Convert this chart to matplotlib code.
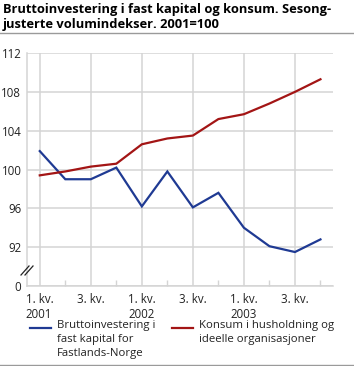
import matplotlib
matplotlib.use("Agg")
from matplotlib import pyplot as plt
from matplotlib.lines import Line2D

plt.rcParams['font.family'] = ['Open Sans', 'DejaVu Sans']

# kvartaler 2001-2003
quarters = list(range(12))
tick_pos = [0, 2, 4, 6, 8, 10]
tick_labels = ["1. kv.\n2001", "3. kv.", "1. kv.\n2002", "3. kv.", "1. kv.\n2003", "3. kv."]

invest = [101.9, 99.0, 99.0, 100.2, 96.2, 99.8, 96.1, 97.6, 94.0, 92.1, 91.5, 92.8]
konsum = [99.4, 99.8, 100.3, 100.6, 102.6, 103.2, 103.5, 105.2, 105.7, 106.8, 108.0, 109.3]

y_ticks = [88, 92, 96, 100, 104, 108, 112]
y_labels = ["0", "92", "96", "100", "104", "108", "112"]

label_invest = "Bruttoinvestering i\nfast kapital for\nFastlands-Norge"
label_konsum = "Konsum i husholdning og\nideelle organisasjoner"

blue = "#1f3a93"
red = "#a31515"
grid = "#d4d4d4"

fig = plt.figure(figsize=(3.54, 3.66), dpi=100)
ax = fig.add_axes([0.0763, 0.2186, 0.8650, 0.6364])

ax.plot(quarters, invest, color=blue, lw=1.6, solid_joinstyle='miter', zorder=3)
ax.plot(quarters, konsum, color=red, lw=1.6, solid_joinstyle='miter', zorder=3)

ax.set_xlim(-0.5, 11.5)
ax.set_ylim(88, 112)
ax.set_yticks(y_ticks)
ax.set_yticklabels(y_labels)
ax.set_xticks(tick_pos)
ax.set_xticklabels(tick_labels, ha='center', multialignment='left')
ax.set_xticks(quarters, minor=True)

ax.grid(True, which='major', color=grid, lw=1.1)
ax.set_axisbelow(True)
ax.tick_params(axis='both', which='major', length=0, labelsize=8.3, colors='#222222')
ax.tick_params(axis='y', pad=4)
ax.tick_params(axis='x', pad=5)
ax.tick_params(axis='x', which='minor', direction='in', length=4, color=grid, width=1)

for s in ['top', 'right']:
    ax.spines[s].set_visible(False)
for s in ['left', 'bottom']:
    ax.spines[s].set_color(grid)
    ax.spines[s].set_linewidth(1.1)

# brudd i y-aksen
for dx in [0, 4]:
    fig.add_artist(Line2D([(21 + dx) / 354, (29 + dx) / 354],
                          [1 - 275 / 366, 1 - 266 / 366],
                          color='#222222', lw=0.9))

fig.text(3 / 354, 1 - 3 / 366,
         "Bruttoinvestering i fast kapital og konsum. Sesong-\njusterte volumindekser. 2001=100",
         ha='left', va='top', fontsize=9.3, fontweight='bold', linespacing=1.2)
fig.add_artist(Line2D([0, 1], [1 - 32.5 / 366, 1 - 32.5 / 366], color='#9a9a9a', lw=1))
fig.add_artist(Line2D([0, 1], [1 - 365 / 366, 1 - 365 / 366], color='#9a9a9a', lw=1))

# forklaring
fig.add_artist(Line2D([30 / 354, 51 / 354], [1 - 328 / 366] * 2, color=blue, lw=1.6))
fig.text(57 / 354, 1 - 320 / 366, label_invest, ha='left', va='top',
         fontsize=8.2, linespacing=1.35, color='#222222')
fig.add_artist(Line2D([172 / 354, 193 / 354], [1 - 328 / 366] * 2, color=red, lw=1.6))
fig.text(199 / 354, 1 - 320 / 366, label_konsum, ha='left', va='top',
         fontsize=8.2, linespacing=1.35, color='#222222')

fig.savefig("out.png", dpi=100)
